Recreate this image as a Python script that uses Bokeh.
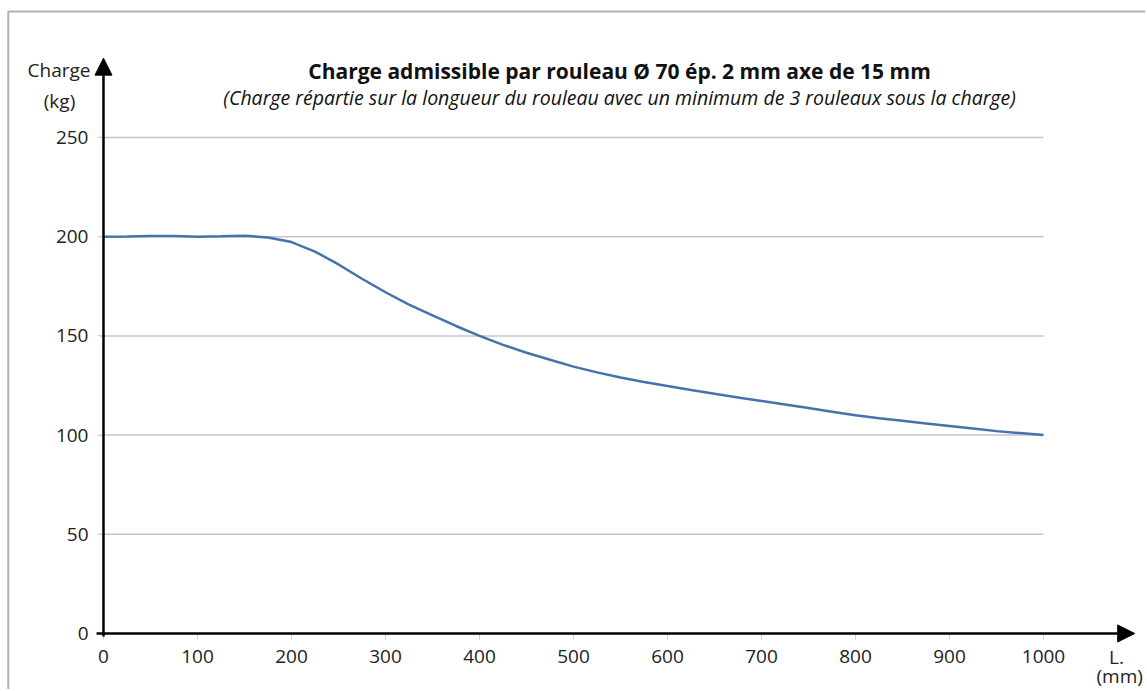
from bokeh.plotting import figure
from bokeh.models import Range1d, Arrow, NormalHead, Label, BoxAnnotation, FixedTicker, ColumnDataSource, LinearAxis
from bokeh.embed import file_html
from bokeh.resources import INLINE

# ---- data ----
length_mm = [0, 25, 50, 75, 100, 125, 150, 175, 200, 225, 250, 275, 300, 325, 350, 375, 400,
             425, 450, 475, 500, 525, 550, 575, 600, 625, 650, 675, 700, 725, 750, 775, 800,
             825, 850, 875, 900, 925, 950, 975, 1000]
charge_kg = [200, 200.1, 200.3, 200.3, 200, 200.2, 200.5, 199.6, 197.3, 192.5, 186, 178.8, 172,
             165.8, 160.3, 155, 150, 145.5, 141.5, 138, 134.5, 131.6, 129, 126.8, 124.7, 122.7,
             120.8, 119, 117.2, 115.4, 113.6, 111.8, 110, 108.5, 107.2, 105.9, 104.6, 103.3,
             102, 101, 100]
x_ticks = [0, 100, 200, 300, 400, 500, 600, 700, 800, 900, 1000]
y_ticks = [0, 50, 100, 150, 200, 250]

title_text = "Charge admissible par rouleau Ø 70 ép. 2 mm axe de 15 mm"
subtitle_text = "(Charge répartie sur la longueur du rouleau avec un minimum de 3 rouleaux sous la charge)"
y_name = ["Charge", "(kg)"]
x_name = ["L.", "(mm)"]

W, H = 1145, 689
p = figure(width=W, height=H, output_backend="svg", toolbar_location=None,
           x_range=Range1d(-109.57, 1108.5), y_range=Range1d(-28.23, 319.05),
           x_axis_location=None, y_axis_location=None,
           min_border=0)
p.outline_line_color = None
p.background_fill_color = "white"
p.border_fill_color = "white"
p.xgrid.visible = False
p.ygrid.visible = False

# gridlines (at the y tick values, spanning the data extent)
gy = y_ticks[1:]
p.segment(x0=[-4.0] * len(gy), y0=gy, x1=[max(x_ticks)] * len(gy), y1=gy,
          line_color="#c4c4d0", line_width=1.5)

# axes placed at the origin
xax = LinearAxis(fixed_location=0, ticker=FixedTicker(ticks=x_ticks), bounds=(0, 1000))
yax = LinearAxis(fixed_location=0, ticker=FixedTicker(ticks=y_ticks), bounds=(0, 250))
for ax in (xax, yax):
    ax.axis_line_color = None
    ax.major_tick_line_color = "#cfcfd6"
    ax.major_tick_line_width = 1
    ax.major_tick_in = 0
    ax.major_tick_out = 6
    ax.minor_tick_line_color = None
    ax.major_label_text_font = "Open Sans"
    ax.major_label_text_font_size = "19px"
    ax.major_label_text_color = "#222222"
xax.major_label_standoff = 11
yax.major_label_standoff = 9
p.add_layout(xax, "below")
p.add_layout(yax, "left")

src = ColumnDataSource(dict(x=length_mm, y=charge_kg))
p.line("x", "y", source=src, line_color="#4672ab", line_width=2.5)

# axis arrows
p.add_layout(Arrow(end=NormalHead(size=17, fill_color="black", line_color="black"),
                   x_start=-7.4, y_start=0, x_end=1097, y_end=0,
                   line_color="black", line_width=2.5))
p.add_layout(Arrow(end=NormalHead(size=17, fill_color="black", line_color="black"),
                   x_start=0, y_start=-1.5, x_end=0, y_end=290,
                   line_color="black", line_width=2.5))

# frame border
p.add_layout(BoxAnnotation(left=-101.3, right=1200, top=313.5, bottom=-80,
                           fill_alpha=0, line_color="#000000", line_width=2))

# titles
p.add_layout(Label(x=549, y=283.3, text=title_text, text_align="center", text_baseline="middle",
                   text_font="Open Sans", text_font_style="bold", text_font_size="21px",
                   text_color="#111111"))
p.add_layout(Label(x=549, y=270.2, text=subtitle_text, text_align="center", text_baseline="middle",
                   text_font="Open Sans", text_font_style="italic", text_font_size="19.5px",
                   text_color="#111111"))

# axis names
p.add_layout(Label(x=-47.3, y=283.8, text=y_name[0], text_align="center", text_baseline="middle",
                   text_font="Open Sans", text_font_size="19px", text_color="#222222"))
p.add_layout(Label(x=-46.8, y=268.6, text=y_name[1], text_align="center", text_baseline="middle",
                   text_font="Open Sans", text_font_size="19px", text_color="#222222"))
p.add_layout(Label(x=1077.7, y=-11.8, text=x_name[0], text_align="center", text_baseline="middle",
                   text_font="Open Sans", text_font_size="19px", text_color="#222222"))
p.add_layout(Label(x=1081, y=-21.2, text=x_name[1], text_align="center", text_baseline="middle",
                   text_font="Open Sans", text_font_size="19px", text_color="#222222"))

open("out.html", "w").write(file_html(p, INLINE))
